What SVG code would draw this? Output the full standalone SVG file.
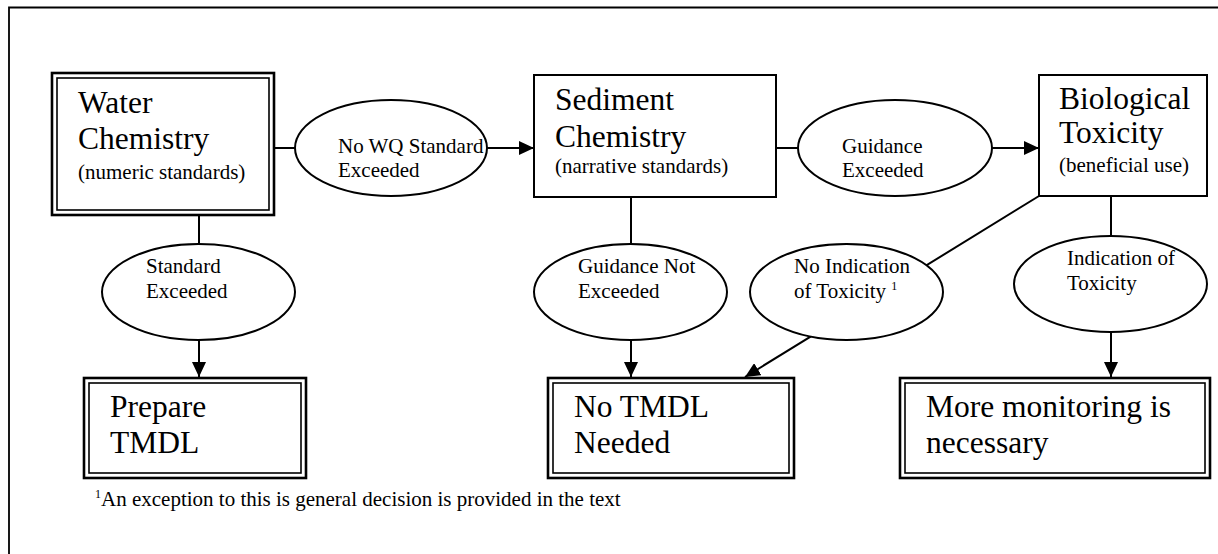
<svg xmlns="http://www.w3.org/2000/svg" width="1218" height="554" viewBox="0 0 1218 554">
<style>
  text { font-family: "Liberation Serif", "Times New Roman", serif; fill: #000; }
  .big { font-size: 31.5px; }
  .mid { font-size: 21px; }
  .sup { font-size: 12px; }
  .ell { fill: #fff; stroke: #000; stroke-width: 2; }
  .box { fill: #fff; stroke: #000; stroke-width: 2; }
  .dbo { fill: #fff; stroke: #000; stroke-width: 2.6; }
  .dbi { fill: none; stroke: #000; stroke-width: 1.6; }
  .ln { stroke: #000; stroke-width: 2; fill: none; }
</style>
<defs>
  <marker id="ah" markerWidth="15" markerHeight="14" refX="15" refY="7" orient="auto" markerUnits="userSpaceOnUse">
    <path d="M0,0 L15,7 L0,14 Z" fill="#000"/>
  </marker>
</defs>
<rect width="1218" height="554" fill="#fff"/>
<path d="M9,554 L9,7.5 L1218,7.5" fill="none" stroke="#000" stroke-width="1.8"/>

<g id="connectors">
  <line class="ln" x1="274" y1="148" x2="296" y2="148"/>
  <line class="ln" x1="487" y1="148" x2="534" y2="148" marker-end="url(#ah)"/>
  <line class="ln" x1="776" y1="148" x2="799" y2="148"/>
  <line class="ln" x1="992" y1="148" x2="1039" y2="148" marker-end="url(#ah)"/>
  <line class="ln" x1="199" y1="215" x2="199" y2="244"/>
  <line class="ln" x1="199" y1="340" x2="199" y2="377" marker-end="url(#ah)"/>
  <line class="ln" x1="631" y1="197" x2="631" y2="244"/>
  <line class="ln" x1="631" y1="340" x2="631" y2="377" marker-end="url(#ah)"/>
  <line class="ln" x1="1111" y1="196" x2="1111" y2="236"/>
  <line class="ln" x1="1111" y1="332" x2="1111" y2="377" marker-end="url(#ah)"/>
  <line class="ln" x1="1039" y1="196" x2="745" y2="377" marker-end="url(#ah)"/>
</g>

<g id="water-chemistry">
  <rect class="dbo" x="52" y="73" width="222" height="142"/>
  <rect class="dbi" x="57" y="78" width="212" height="132"/>
  <text class="big" x="78" y="113">Water</text>
  <text class="big" x="78" y="149">Chemistry</text>
  <text class="mid" x="78" y="179">(numeric standards)</text>
</g>

<g id="no-wq-standard-exceeded">
  <ellipse class="ell" cx="391" cy="148" rx="96" ry="48"/>
  <text class="mid" x="338" y="153">No WQ Standard</text>
  <text class="mid" x="338" y="177">Exceeded</text>
</g>

<g id="sediment-chemistry">
  <rect class="box" x="534" y="75" width="242" height="122"/>
  <text class="big" x="555" y="110">Sediment</text>
  <text class="big" x="555" y="147">Chemistry</text>
  <text class="mid" x="555" y="173">(narrative standards)</text>
</g>

<g id="guidance-exceeded">
  <ellipse class="ell" cx="895" cy="148" rx="97" ry="48"/>
  <text class="mid" x="842" y="153">Guidance</text>
  <text class="mid" x="842" y="177">Exceeded</text>
</g>

<g id="biological-toxicity">
  <rect class="box" x="1039" y="75" width="168" height="121"/>
  <text class="big" x="1059" y="109">Biological</text>
  <text class="big" x="1059" y="143">Toxicity</text>
  <text class="mid" x="1059" y="172">(beneficial use)</text>
</g>

<g id="standard-exceeded">
  <ellipse class="ell" cx="198.5" cy="292" rx="96.5" ry="48"/>
  <text class="mid" x="146" y="273">Standard</text>
  <text class="mid" x="146" y="298">Exceeded</text>
</g>

<g id="guidance-not-exceeded">
  <ellipse class="ell" cx="630.5" cy="292" rx="96.5" ry="48"/>
  <text class="mid" x="578" y="273">Guidance Not</text>
  <text class="mid" x="578" y="298">Exceeded</text>
</g>

<g id="no-indication-of-toxicity">
  <ellipse class="ell" cx="846.5" cy="292" rx="96.5" ry="48"/>
  <text class="mid" x="794" y="273">No Indication</text>
  <text class="mid" x="794" y="298">of Toxicity <tspan class="sup" dy="-8">1</tspan></text>
</g>

<g id="indication-of-toxicity">
  <ellipse class="ell" cx="1110.5" cy="284" rx="96.5" ry="48"/>
  <text class="mid" x="1067" y="265">Indication of</text>
  <text class="mid" x="1067" y="290">Toxicity</text>
</g>

<g id="prepare-tmdl">
  <rect class="dbo" x="84" y="378" width="222" height="100"/>
  <rect class="dbi" x="89" y="383" width="212" height="90"/>
  <text class="big" x="110" y="417">Prepare</text>
  <text class="big" x="110" y="453">TMDL</text>
</g>

<g id="no-tmdl-needed">
  <rect class="dbo" x="548" y="378" width="246" height="100"/>
  <rect class="dbi" x="553" y="383" width="236" height="90"/>
  <text class="big" x="574" y="417">No TMDL</text>
  <text class="big" x="574" y="453">Needed</text>
</g>

<g id="more-monitoring">
  <rect class="dbo" x="900" y="378" width="310" height="100"/>
  <rect class="dbi" x="905" y="383" width="300" height="90"/>
  <text class="big" x="926" y="417">More monitoring is</text>
  <text class="big" x="926" y="453">necessary</text>
</g>

<g id="footnote">
  <text class="mid" x="95" y="506"><tspan class="sup" dy="-8">1</tspan><tspan dy="8">An exception to this is general decision is provided in the text</tspan></text>
</g>
</svg>
